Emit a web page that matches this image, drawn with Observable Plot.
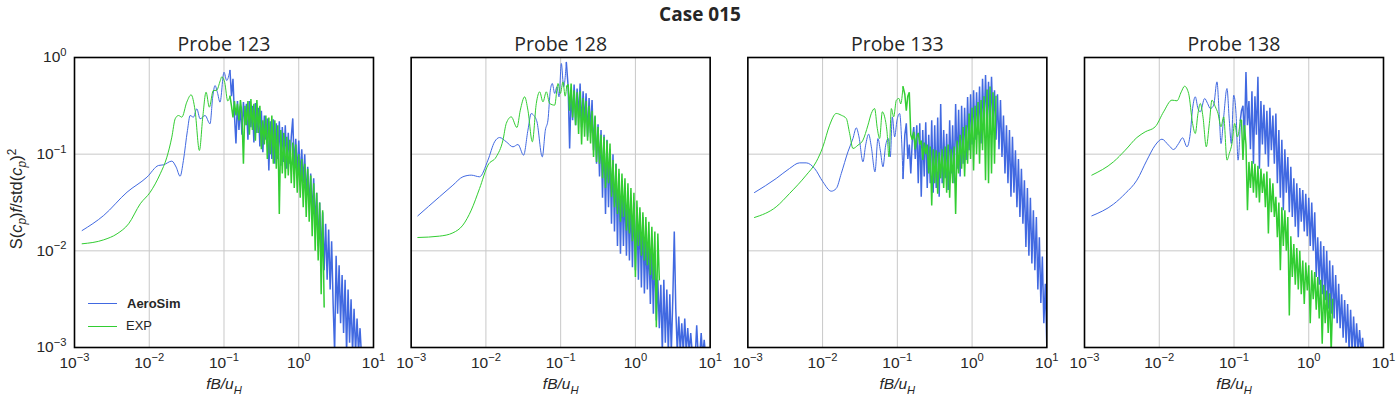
<!DOCTYPE html>
<html>
<head>
<meta charset="utf-8">
<script src="https://cdn.jsdelivr.net/npm/d3@7"></script>
<script src="https://cdn.jsdelivr.net/npm/@observablehq/plot@0.6"></script>
<style>
  html, body { margin: 0; padding: 0; background: #fff; }
  body { width: 1400px; height: 400px; position: relative; overflow: hidden; font-family: "Liberation Sans", Arial, sans-serif; }
  #title { position: absolute; top: 1px; left: 0; width: 1400px; text-align: center; font: bold 19px "Open Sans", sans-serif; color: #262626; line-height: 26px; }
  #chart { position: absolute; top: 28px; left: 0; }
  #ylabel { position: absolute; left: 16px; top: 199px; transform: translate(-50%, -50%) rotate(-90deg); white-space: nowrap; font-size: 16.5px; color: #262626; line-height: 18px; }
  #ylabel sub, #ylabel sup { font-size: 0.72em; line-height: 0; }
  .lg-line { position: absolute; left: 88px; width: 29px; height: 1.3px; }
  .lg-text { position: absolute; font-size: 13px; color: #262626; line-height: 16px; }
</style>
</head>
<body>
<div id="title">Case 015</div>
<div id="chart"></div>
<div id="ylabel">S(<i>c</i><sub><i>p</i></sub>)<i>f</i>/std(<i>c</i><sub><i>p</i></sub>)<sup>2</sup></div>
<div class="lg-line" style="top:303px;background:#4169e1"></div>
<div class="lg-text" style="left:127px;top:296px;font-weight:bold">AeroSim</div>
<div class="lg-line" style="top:325.5px;background:#32cd32"></div>
<div class="lg-text" style="left:126px;top:318px">EXP</div>
<script>
// ---------- categories / ticks ----------
const probes = ["Probe 123", "Probe 128", "Probe 133", "Probe 138"];
const sources = ["AeroSim", "EXP"];
const colors = ["#4169e1", "#32cd32"];
const xTicks = [1e-3, 1e-2, 1e-1, 1, 10];
const yTicks = [1e-3, 1e-2, 1e-1, 1];

// ---------- values (log10 fB/uH, log10 S) ----------
// low-frequency (smooth) parts: [log10 x, log10 y]
const aero123Smooth = [[-2.898,-1.79],[-2.609,-1.634],[-2.297,-1.393],[-2.031,-1.238],[-1.876,-1.117],[-1.809,-1.11],[-1.698,-1.072],[-1.64,-1.134],[-1.587,-1.228],[-1.543,-1.066],[-1.489,-0.755],[-1.453,-0.60],[-1.409,-0.617],[-1.364,-0.531],[-1.32,-0.634],[-1.253,-0.60],[-1.187,-0.686],[-1.151,-0.41],[-1.12,-0.29],[-1.089,-0.359],[-1.053,-0.462],[-1.0,-0.152],[-0.964,-0.238],[-0.92,-0.134]];
const exp123Smooth = [[-2.898,-1.927],[-2.609,-1.886],[-2.431,-1.824],[-2.276,-1.72],[-2.12,-1.513],[-1.987,-1.393],[-1.853,-1.203],[-1.764,-1.031],[-1.698,-0.824],[-1.653,-0.634],[-1.609,-0.60],[-1.564,-0.617],[-1.498,-0.462],[-1.44,-0.386],[-1.387,-0.548],[-1.329,-0.962],[-1.284,-0.617],[-1.24,-0.359],[-1.196,-0.514],[-1.143,-0.341],[-1.10,-0.34],[-1.05,-0.24],[-1.03,-0.20],[-0.99,-0.26],[-0.95,-0.45],[-0.92,-0.40]];
const aero128Smooth = [[-2.911,-1.638],[-2.621,-1.441],[-2.442,-1.321],[-2.308,-1.234],[-2.196,-1.217],[-2.085,-1.234],[-1.973,-1.062],[-1.884,-0.872],[-1.817,-0.828],[-1.728,-0.872],[-1.638,-0.924],[-1.571,-0.90],[-1.496,-1.01],[-1.438,-0.752],[-1.393,-0.579],[-1.362,-0.597],[-1.317,-0.666],[-1.246,-1.028],[-1.205,-0.752],[-1.17,-0.648],[-1.138,-0.338],[-1.112,-0.269],[-1.08,-0.372],[-1.05,-0.303],[-1.022,-0.407],[-0.991,-0.062],[-0.96,-0.303],[-0.924,-0.052]];
const exp128Smooth = [[-2.911,-1.862],[-2.621,-1.848],[-2.442,-1.814],[-2.308,-1.734],[-2.196,-1.579],[-2.085,-1.355],[-1.973,-1.114],[-1.862,-1.028],[-1.772,-0.855],[-1.728,-0.683],[-1.661,-0.614],[-1.585,-0.724],[-1.54,-0.545],[-1.482,-0.407],[-1.438,-0.545],[-1.379,-0.872],[-1.326,-0.476],[-1.281,-0.355],[-1.237,-0.459],[-1.192,-0.355],[-1.147,-0.476],[-1.08,-0.493],[-1.036,-0.269],[-1.004,-0.372],[-0.969,-0.252],[-0.94,-0.40],[-0.92,-0.30]];
const aero133Smooth = [[-2.911,-1.397],[-2.621,-1.252],[-2.442,-1.148],[-2.308,-1.09],[-2.219,-1.09],[-2.107,-1.148],[-1.996,-1.286],[-1.884,-1.383],[-1.817,-1.355],[-1.75,-1.2],[-1.661,-0.976],[-1.594,-0.838],[-1.549,-0.728],[-1.513,-0.821],[-1.46,-1.079],[-1.424,-0.907],[-1.384,-0.793],[-1.348,-0.924],[-1.299,-1.183],[-1.259,-0.838],[-1.228,-0.959],[-1.192,-1.131],[-1.156,-0.907],[-1.121,-0.838],[-1.094,-1.028],[-1.067,-0.614],[-1.036,-0.821],[-1.004,-0.648],[-0.969,-0.579],[-0.946,-0.80],[-0.924,-1.252]];
const exp133Smooth = [[-2.911,-1.655],[-2.621,-1.545],[-2.442,-1.407],[-2.219,-1.217],[-2.085,-1.079],[-1.996,-0.924],[-1.906,-0.70],[-1.817,-0.579],[-1.75,-0.597],[-1.683,-0.631],[-1.638,-0.786],[-1.594,-0.941],[-1.527,-0.907],[-1.46,-0.855],[-1.393,-0.70],[-1.348,-0.579],[-1.304,-0.528],[-1.268,-0.734],[-1.237,-0.838],[-1.201,-0.562],[-1.17,-0.614],[-1.138,-0.769],[-1.112,-1.028],[-1.08,-0.528],[-1.049,-0.614],[-1.013,-0.441],[-0.978,-0.424],[-0.955,-0.48],[-0.924,-0.303]];
const aero138Smooth = [[-2.902,-1.638],[-2.612,-1.517],[-2.455,-1.407],[-2.299,-1.269],[-2.165,-1.062],[-2.054,-0.907],[-1.964,-0.845],[-1.875,-0.907],[-1.808,-0.952],[-1.741,-0.89],[-1.688,-0.831],[-1.629,-0.924],[-1.585,-0.786],[-1.554,-0.528],[-1.518,-0.407],[-1.482,-0.528],[-1.451,-0.562],[-1.393,-0.424],[-1.353,-0.476],[-1.317,-0.528],[-1.272,-0.493],[-1.228,-0.252],[-1.196,-0.614],[-1.174,-0.89],[-1.138,-0.614],[-1.094,-0.321],[-1.063,-0.648],[-1.036,-0.89],[-1.004,-0.39],[-0.973,-0.579],[-0.946,-1.062],[-0.915,-0.648]];
const exp138Smooth = [[-2.902,-1.217],[-2.612,-1.079],[-2.455,-0.959],[-2.299,-0.828],[-2.188,-0.769],[-2.054,-0.717],[-1.942,-0.562],[-1.83,-0.441],[-1.763,-0.448],[-1.705,-0.355],[-1.661,-0.297],[-1.607,-0.372],[-1.554,-0.683],[-1.518,-0.786],[-1.482,-0.579],[-1.451,-0.476],[-1.415,-0.614],[-1.371,-0.924],[-1.33,-0.683],[-1.295,-0.441],[-1.25,-0.51],[-1.214,-0.579],[-1.174,-0.717],[-1.138,-0.614],[-1.094,-1.062],[-1.063,-0.993],[-1.027,-0.89],[-0.991,-0.683],[-0.955,-0.821],[-0.915,-0.648]];

// high-frequency (noisy) parts on the shared frequency bins (log10 x)
const gridAero = [-0.90,-0.88,-0.86,-0.84,-0.82,-0.80,-0.78,-0.76,-0.74,-0.72,
  -0.70,-0.68,-0.66,-0.64,-0.62,-0.60,-0.58,-0.56,-0.54,-0.52,
  -0.50,-0.48,-0.46,-0.44,-0.42,-0.40,-0.38,-0.36,-0.34,-0.32,
  -0.30,-0.28,-0.26,-0.24,-0.22,-0.20,-0.18,-0.16,-0.14,-0.12,
  -0.10,-0.08,-0.06,-0.04,-0.02,0.00,0.02,0.04,0.06,0.08,
  0.10,0.12,0.14,0.16,0.18,0.20,0.22,0.24,0.26,0.28,
  0.30,0.32,0.34,0.36,0.38,0.40,0.42,0.44,0.46,0.48,
  0.50,0.52,0.54,0.56,0.58,0.60,0.62,0.64,0.66,0.68,
  0.70,0.72,0.74,0.76,0.78,0.80,0.82,0.84,0.86,0.88,
  0.90,0.92,0.94,0.96,0.98,1.00];
const gridExp = [-0.90,-0.88,-0.86,-0.84,-0.82,-0.80,-0.78,-0.76,-0.74,-0.72,
  -0.70,-0.68,-0.66,-0.64,-0.62,-0.60,-0.58,-0.56,-0.54,-0.52,
  -0.50,-0.48,-0.46,-0.44,-0.42,-0.40,-0.38,-0.36,-0.34,-0.32,
  -0.30,-0.28,-0.26,-0.24,-0.22,-0.20,-0.18,-0.16,-0.14,-0.12,
  -0.10,-0.08,-0.06,-0.04,-0.02,0.00,0.02,0.04,0.06,0.08,
  0.10,0.12,0.14,0.16,0.18,0.20,0.22,0.24,0.26,0.28,
  0.30,0.32,0.34];

const aero123Noise = [-0.40,-0.22,-0.60,-0.89,-0.45,-0.75,-0.50,-0.80,-0.46,-0.70,
  -0.48,-0.85,-0.45,-0.72,-0.50,-0.88,-0.47,-0.78,-0.52,-0.92,
  -0.55,-0.98,-0.60,-0.85,-0.63,-1.17,-0.66,-1.05,-0.64,-1.10,
  -0.68,-1.05,-0.66,-1.12,-0.72,-1.08,-0.70,-1.15,-0.78,-1.10,
  -0.82,-0.63,-1.15,-0.84,-1.22,-0.86,-1.25,-0.95,-1.30,-1.00,
  -1.45,-1.13,-1.55,-1.20,-1.65,-1.25,-1.75,-1.40,-1.95,-1.50,
  -2.10,-1.60,-2.20,-1.72,-2.30,-1.78,-2.40,-1.90,-2.55,-3.05,
  -2.05,-2.65,-2.15,-2.75,-2.25,-2.85,-2.30,-3.05,-2.40,-2.95,
  -2.50,-3.05,-2.60,-3.05,-2.70,-3.05,-2.80,-3.10,null,null,
  null,null,null,null,null,null];
const exp123Noise = [-0.50,-0.62,-0.45,-0.60,-0.48,-0.65,-0.44,-0.58,-1.10,-0.50,
  -0.70,-0.45,-0.80,-0.43,-0.75,-0.48,-0.86,-0.44,-0.78,-0.50,
  -0.95,-0.65,-0.90,-0.60,-1.05,-0.62,-1.00,-0.60,-1.10,-0.65,
  -1.15,-0.70,-1.62,-0.75,-1.20,-0.78,-1.25,-0.82,-1.22,-0.85,
  -1.30,-0.88,-1.35,-0.90,-1.40,-1.00,-1.45,-1.05,-1.55,-1.10,
  -1.65,-1.15,-1.70,-1.22,-1.85,-1.30,-2.00,-1.40,-2.10,-1.50,
  -2.45,-1.58,-2.58];
const aero128Noise = [-0.30,-0.94,-0.35,-0.65,-0.28,-0.70,-0.32,-0.62,-0.27,-0.72,
  -0.35,-0.68,-0.37,-0.82,-0.42,-0.78,-0.44,-0.96,-0.61,-1.10,
  -0.69,-1.23,-0.75,-1.45,-0.80,-1.62,-0.85,-1.55,-0.95,-1.72,
  -1.00,-1.80,-1.10,-1.95,-1.20,-2.03,-1.30,-1.95,-1.35,-2.05,
  -1.40,-2.10,-1.45,-2.17,-1.50,-2.20,-1.55,-2.30,-1.60,-2.38,
  -1.65,-2.44,-1.85,-2.40,-1.90,-2.55,-1.95,-2.65,-2.00,-2.72,
  -2.30,-2.80,-2.35,-3.05,-2.30,-2.95,-2.40,-3.05,-2.45,-3.05,
  -2.50,-1.80,-2.60,-3.05,-2.68,-3.05,-2.75,-3.05,-2.70,-3.05,
  -2.80,-3.05,-2.85,-3.05,-3.10,-3.10,-2.77,-3.10,-3.10,-2.85,
  -3.10,-2.92,-3.10,null,null,null];
const exp128Noise = [-0.28,-0.55,-0.27,-0.62,-0.34,-0.70,-0.36,-0.79,-0.35,-0.90,
  -0.42,-0.82,-0.45,-0.86,-0.50,-0.89,-0.55,-1.03,-0.60,-1.08,
  -0.72,-1.10,-0.80,-1.25,-0.82,-1.35,-0.86,-1.30,-0.89,-1.44,
  -1.06,-1.55,-1.10,-1.62,-1.15,-1.70,-1.20,-1.65,-1.25,-1.79,
  -1.30,-1.82,-1.35,-1.90,-1.40,-2.27,-1.48,-1.95,-1.55,-2.05,
  -1.60,-2.10,-1.65,-2.15,-1.70,-2.25,-1.75,-2.30,-1.80,-2.79,
  -1.82,-2.30,null];
const aero133Noise = [-0.80,-0.68,-1.05,-0.90,-1.20,-0.85,-0.72,-1.05,-0.70,-1.30,
  -0.68,-1.44,-0.75,-1.23,-0.67,-1.35,-0.80,-1.30,-0.65,-1.40,
  -0.70,-1.35,-0.62,-1.44,-0.48,-1.30,-0.75,-1.25,-0.79,-1.37,
  -0.65,-1.20,-0.70,-1.30,-0.48,-1.15,-0.54,-1.23,-0.50,-1.10,
  -0.52,-1.06,-0.41,-0.96,-0.38,-0.90,-0.34,-0.85,-0.36,-0.80,
  -0.30,-0.89,-0.22,-0.75,-0.18,-0.70,-0.25,-0.80,-0.20,-0.68,
  -0.34,-0.85,-0.38,-0.95,-0.44,-1.03,-0.60,-1.20,-0.70,-1.30,
  -0.75,-1.44,-0.82,-1.40,-0.96,-1.55,-1.05,-1.65,-1.15,-1.72,
  -1.27,-1.96,-1.35,-2.05,-1.45,-2.13,-1.58,-2.20,-1.65,-2.40,
  -1.86,-2.54,-2.06,-2.75,-2.34,-3.00];
const exp133Noise = [-0.38,-0.55,-0.40,-0.36,-0.80,-0.85,-0.77,-0.95,-0.82,-0.78,
  -0.90,-0.86,-1.06,-0.88,-1.00,-0.90,-1.20,-0.92,-1.53,-0.95,
  -1.30,-0.96,-1.41,-0.98,-1.25,-0.95,-1.35,-0.92,-1.40,-0.90,
  -1.45,-0.95,-1.30,-0.92,-1.62,-0.86,-1.20,-0.80,-1.15,-0.72,
  -1.23,-0.70,-1.10,-0.58,-1.05,-0.52,-1.17,-0.50,-1.00,-0.46,
  -1.10,-0.44,-0.96,-0.40,-1.27,-0.33,-1.30,-0.30,-1.20,-0.36,
  -1.10,-0.40,null];
const aero138Noise = [-0.55,-0.50,-0.85,-0.15,-0.70,-0.45,-0.95,-0.35,-1.10,-0.40,
  -0.80,-0.20,-1.15,-0.45,-0.90,-0.49,-1.00,-0.55,-1.13,-0.52,
  -0.96,-0.60,-1.10,-0.58,-1.30,-0.75,-1.45,-0.85,-1.58,-0.95,
  -1.40,-1.03,-1.60,-1.13,-1.65,-1.25,-1.75,-1.30,-1.86,-1.35,
  -1.70,-1.37,-1.80,-1.41,-1.85,-1.45,-1.95,-1.50,-2.00,-1.60,
  -2.27,-1.86,-2.35,-1.90,-2.45,-1.95,-2.51,-2.00,-2.60,-2.10,
  -2.65,-2.15,-2.70,-2.25,-2.75,-2.34,-2.80,-2.45,-2.90,-2.51,
  -2.95,-2.55,-3.05,-2.61,-3.05,-2.68,-3.05,-2.75,-3.05,-2.82,
  -3.05,-2.90,-3.10,null,null,null,null,null,null,null,
  null,null,null,null,null,null];
const exp138Noise = [-0.65,-1.06,-0.70,-0.90,-1.58,-1.08,-1.35,-1.07,-1.40,-1.10,
  -1.45,-1.12,-1.50,-1.15,-1.40,-1.20,-1.55,-1.18,-1.82,-1.25,
  -1.60,-1.30,-1.65,-1.44,-1.86,-1.50,-2.20,-1.55,-1.95,-1.58,
  -2.00,-1.65,-2.67,-1.85,-2.27,-1.93,-2.35,-1.97,-2.40,-2.00,
  -2.45,-2.10,-2.55,-2.12,-2.41,-2.15,-2.75,-2.20,-2.50,-2.22,
  -2.61,-2.27,-2.70,-2.30,-2.96,-2.35,-2.75,-2.41,-2.85,-2.44,
  -3.05,-2.50,null];

// ---------- tables built from the arrays ----------
const seriesList = [
  {probe: probes[0], source: sources[0], smooth: aero123Smooth, noise: aero123Noise, grid: gridAero},
  {probe: probes[1], source: sources[0], smooth: aero128Smooth, noise: aero128Noise, grid: gridAero},
  {probe: probes[2], source: sources[0], smooth: aero133Smooth, noise: aero133Noise, grid: gridAero},
  {probe: probes[3], source: sources[0], smooth: aero138Smooth, noise: aero138Noise, grid: gridAero},
  {probe: probes[0], source: sources[1], smooth: exp123Smooth, noise: exp123Noise, grid: gridExp},
  {probe: probes[1], source: sources[1], smooth: exp128Smooth, noise: exp128Noise, grid: gridExp},
  {probe: probes[2], source: sources[1], smooth: exp133Smooth, noise: exp133Noise, grid: gridExp},
  {probe: probes[3], source: sources[1], smooth: exp138Smooth, noise: exp138Noise, grid: gridExp}
];
const pow10 = v => (v == null ? NaN : Math.pow(10, v));
function smoothRows(s) {
  return s.smooth.map(([lx, ly]) => ({probe: s.probe, source: s.source, x: pow10(lx), y: pow10(ly)}));
}
function noiseRows(s) {
  const last = s.smooth[s.smooth.length - 1];
  const rows = [{probe: s.probe, source: s.source, x: pow10(last[0]), y: pow10(last[1])}];
  s.grid.forEach((lx, i) => rows.push({probe: s.probe, source: s.source, x: pow10(lx), y: pow10(s.noise[i])}));
  return rows;
}

const lineMarks = [];
sources.forEach((src, k) => {
  const ss = seriesList.filter(s => s.source === src);
  lineMarks.push(Plot.line(ss.flatMap(smoothRows), {x: "x", y: "y", z: "probe", fx: "probe", stroke: colors[k], strokeWidth: 1, curve: "monotone-x", clip: true}));
  lineMarks.push(Plot.line(ss.flatMap(noiseRows), {x: "x", y: "y", z: "probe", fx: "probe", stroke: colors[k], strokeWidth: 1.5, strokeLinejoin: "miter", clip: true}));
});

const fmtPow = d => "10^" + String(Math.round(Math.log10(d))).replace("-", "\u2212");

const chart = Plot.plot({
  width: 1400,
  height: 372,
  marginLeft: 74,
  marginRight: 17,
  marginTop: 29,
  marginBottom: 53,
  style: {fontFamily: "'Liberation Sans', Arial, sans-serif", fontSize: "15px", color: "#262626", background: "white", overflow: "visible"},
  fx: {domain: probes, paddingInner: 0.1119, paddingOuter: 0, round: false, label: null},
  x: {type: "log", domain: [1e-3, 10]},
  y: {type: "log", domain: [1e-3, 1]},
  marks: [
    Plot.gridX({ticks: xTicks, stroke: "#c8c8c8", strokeOpacity: 1, strokeWidth: 1}),
    Plot.gridY({ticks: yTicks, stroke: "#c8c8c8", strokeOpacity: 1, strokeWidth: 1}),
    ...lineMarks,
    Plot.frame({stroke: "#000", strokeWidth: 1.6}),
    Plot.axisX({ticks: xTicks, tickFormat: fmtPow, tickSize: 0, tickPadding: 9, label: null, fontSize: 15.5, fill: "#262626"}),
    Plot.axisY({ticks: yTicks, tickFormat: fmtPow, tickSize: 0, tickPadding: 8, label: null, fontSize: 15.5, fill: "#262626"}),
    Plot.axisFx({anchor: "top", tickSize: 0, tickPadding: 7, label: null, fontSize: 19.5, fontFamily: "'Open Sans', sans-serif", fill: "#262626"}),
    Plot.text(["XLABEL"], {text: d => d, frameAnchor: "bottom", lineAnchor: "middle", textAnchor: "middle", dy: 37, fontSize: 15.5, fill: "#262626"})
  ]
});
document.getElementById("chart").appendChild(chart);

// ---------- math-style labels (superscripts / subscripts / italics) ----------
const NS = "http://www.w3.org/2000/svg";
function richText(el, segs, base) {
  el.textContent = "";
  let cur = 0;
  for (const [t, o] of segs) {
    const opt = o || {};
    const ts = document.createElementNS(NS, "tspan");
    ts.textContent = t;
    const target = opt.sup ? -0.42 * base : opt.sub ? 0.28 * base : 0;
    if (target !== cur) ts.setAttribute("dy", (target - cur).toFixed(2));
    cur = target;
    if (opt.sup || opt.sub) ts.setAttribute("font-size", (0.72 * base).toFixed(1));
    if (opt.i) ts.setAttribute("font-style", "italic");
    el.appendChild(ts);
  }
}
chart.querySelectorAll("text").forEach(el => {
  const t = el.textContent;
  const m = /^10\^(.+)$/.exec(t);
  if (m) richText(el, [["10"], [m[1], {sup: true}]], 15.5);
  else if (t === "XLABEL") richText(el, [["fB/u", {i: true}], ["H", {i: true, sub: true}]], 15.5);
});
</script>
</body>
</html>
